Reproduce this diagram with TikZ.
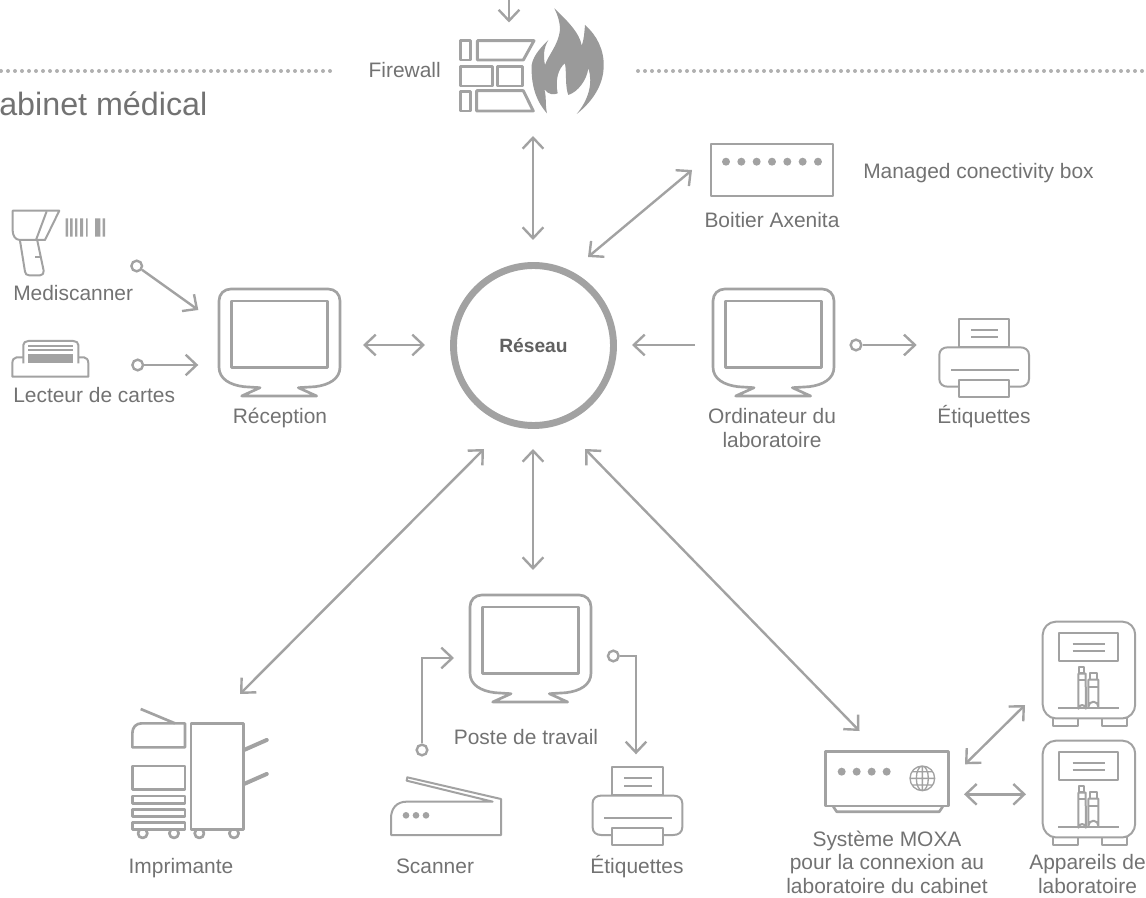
\documentclass[tikz,border=0pt]{standalone}
\usepackage{fontspec}
\setmainfont{Liberation Sans}
\usetikzlibrary{arrows.meta}
\definecolor{ink}{HTML}{A2A2A2}
\definecolor{txt}{HTML}{727272}
\tikzset{
  thin line/.style={draw=ink,line width=1.5pt,line join=round},
  mid line/.style={draw=ink,line width=2pt,line join=round},
  thick line/.style={draw=ink,line width=2.2pt,line join=round},
  conn/.style={draw=ink,line width=1.8pt},
  tip/.tip={Straight Barb[length=8.2pt,width=15.5pt]},
  one/.style={conn,-tip},
  two/.style={conn,tip-tip},
  ring/.style={circle,draw=ink,line width=1.8pt,minimum size=8pt,inner sep=0pt},
  lbl/.style={text=txt,font=\fontsize{15.7}{17.7}\selectfont,inner sep=0pt,anchor=base},
  dots/.style={draw=ink!85,line width=3pt,line cap=round,dash pattern=on 0pt off 5.25pt},
  monitor/.pic={
    \draw[mid line] (0,12) .. controls (0,5) and (5,0) .. (12,0) -- (109,0)
      .. controls (116,0) and (121,5) .. (121,12) -- (121,78)
      .. controls (121,90) and (110,96) .. (96,97.7) -- (79.3,98.7) -- (97.7,107) -- (22.7,107)
      -- (41,98.7) -- (25,97.7) .. controls (11,96) and (0,90) .. (0,78) -- cycle;
    \draw[mid line] (12.7,12) rectangle (108.7,78.3);
  },
  printer/.pic={
    \draw[thin line] (-19.7,36) .. controls (-19.7,31) and (-16,28.3) .. (-11,28.3) -- (61,28.3)
      .. controls (66,28.3) and (70,31) .. (70,36) -- (70,60) .. controls (70,65) and (66,67.7) .. (61,67.7)
      -- (-11,67.7) .. controls (-16,67.7) and (-19.7,65) .. (-19.7,60) -- cycle;
    \draw[thin line,fill=white] (0,0) rectangle (50.3,27.7);
    \draw[thin line] (12,11) -- (39.3,11) (12,18.3) -- (39.3,18.3);
    \draw[thin line] (-8,51) -- (60,51);
    \draw[thin line,fill=white] (0,61) rectangle (50.3,77.7);
  },
  analyzer/.pic={
    \draw[thin line,fill=white] (10.7,96) rectangle (35.7,104);
    \draw[thin line,fill=white] (59,96) rectangle (84,104);
    \draw[thin line,fill=white] (13,0) -- (80,0) .. controls (87,0) and (92.5,6) .. (92.5,13)
      -- (92.5,83) .. controls (92.5,90) and (87,96.7) .. (80,96.7) -- (13,96.7)
      .. controls (6,96.7) and (0,90) .. (0,83) -- (0,13) .. controls (0,6) and (6,0) .. (13,0) -- cycle;
    \draw[thin line] (16.7,11) rectangle (75.7,39);
    \draw[thin line] (30,22) -- (62.3,22) (30,29.3) -- (62.3,29.3);
    \draw[thin line] (15.7,86) -- (76.3,86);
    \draw[thin line,fill=white] (36.7,45) rectangle (41.3,51.7);
    \draw[thin line,fill=white] (35.7,52) -- (35.7,87) arc[start angle=180,end angle=360,radius=3.7] -- (43,52) -- cycle;
    \draw[thin line] (35.7,58.5) -- (43,58.5);
    \draw[thin line,fill=white] (47.3,51) rectangle (54,58);
    \draw[thin line,fill=white] (45.7,58) -- (45.7,85) arc[start angle=180,end angle=360,radius=5] -- (55.7,58) -- cycle;
    \draw[thin line] (45.7,65) -- (55.7,65);
  },
}
\begin{document}
\begin{tikzpicture}[x=0.75pt,y=-0.75pt]
\useasboundingbox (0,0) rectangle (1146,898);

% dotted rules
\coordinate (dl0) at (1,71); \coordinate (dl1) at (335,71);
\coordinate (dr0) at (638,71); \coordinate (dr1) at (1146,71);
\draw[dots] (dl0) -- (dl1);
\draw[dots] (dr0) -- (dr1);
\node[lbl,font=\fontsize{24.2}{26}\selectfont,anchor=base west] (title) at (-1,115.5) {abinet médical};

% firewall
\begin{scope}[thick line]
  \draw (460.7,40.7) rectangle (470.7,60);
  \draw (477.3,40.7) -- (534,40.7) -- (523.3,60) -- (477.3,60) -- cycle;
  \draw (460.7,66.7) rectangle (492.3,86);
  \draw (497.3,66.7) rectangle (522.7,86);
  \draw (460.7,91.7) rectangle (470.7,111);
  \draw (476.7,90.7) -- (523.3,90.7) -- (533.3,111) -- (476.7,111) -- cycle;
\end{scope}
\begin{scope}[shift={(525,0)},x=0.25pt,y=-0.25pt]
  \fill[ink!95!black] (88,25) .. controls (125,60) and (165,100) .. (170,137)
    .. controls (178,115) and (178,95) .. (180,75)
    .. controls (215,105) and (238,150) .. (236,200)
    .. controls (235,265) and (190,315) .. (155,342)
    .. controls (190,300) and (205,250) .. (190,205)
    .. controls (185,240) and (160,275) .. (130,285)
    .. controls (120,260) and (125,220) .. (120,190)
    .. controls (100,205) and (90,240) .. (98,280)
    .. controls (88,285) and (70,285) .. (58,268)
    .. controls (65,290) and (60,315) .. (66,340)
    .. controls (30,300) and (18,250) .. (20,195)
    .. controls (25,165) and (50,140) .. (70,120)
    .. controls (55,145) and (55,170) .. (60,195)
    .. controls (70,165) and (100,135) .. (105,90)
    .. controls (105,65) and (98,45) .. (88,25) -- cycle;
\end{scope}
\node[lbl,anchor=base east] (fw) at (441,78) {Firewall};
\coordinate (in0) at (509,0); \coordinate (in1) at (509,22.5);
\draw[one] (in0) -- (in1);

% network
\node[circle,draw=ink,line width=5.2pt,minimum size=120pt,inner sep=0pt,text=txt!85!black,
      font=\fontsize{14.4}{17}\selectfont\bfseries] (net) at (533.5,345.5) {Réseau};

% axenita
\node[thin line,minimum width=91pt,minimum height=39pt,inner sep=0pt] (axe) at (772,170.3) {};
\foreach \i in {0,...,6} \fill[ink] (726+15.33*\i,161.7) circle[radius=4];
\node[lbl] (axel) at (772,227.5) {Boitier Axenita};
\node[lbl,anchor=base west] (mcb) at (863,178.5) {Managed conectivity box};

% monitors
\pic (rec) at (219,289) {monitor};
\node[lbl] (recl) at (280,424) {Réception};
\pic (ord) at (713,289) {monitor};
\node[lbl,align=center] (ordl) at (772,447.5) {Ordinateur du\\laboratoire};
\pic (pos) at (470,595) {monitor};
\node[lbl] (posl) at (526,744) {Poste de travail};

% printers
\pic (pr1) at (959,319) {printer};
\node[lbl] (pr1l) at (984,424) {Étiquettes};
\pic (pr2) at (612.3,767.3) {printer};
\node[lbl] (pr2l) at (637,873) {Étiquettes};

% mediscanner
\begin{scope}[shift={(0,200)},x=0.25pt,y=-0.25pt]
  \draw[thin line] (38,32) -- (178,32) -- (135,120) -- (60,120) .. controls (45,120) and (38,105) .. (38,92) -- cycle;
  \draw[thin line] (140,34) -- (108,120);
  \draw[thin line] (60,122) -- (75,215) .. controls (76,222) and (80,226) .. (88,226) -- (120,226) .. controls (128,226) and (132,220) .. (131,212) -- (112,122);
  \draw[thin line] (105,170) -- (122,170);
  \fill[ink] (197,55) rectangle (204,110) (210,55) rectangle (218,110) (225,55) rectangle (232,110)
    (240,55) rectangle (249,110) (258,55) rectangle (263,110) (285,55) rectangle (301,110) (308,55) rectangle (315,110);
\end{scope}
\node[lbl,anchor=base west] (medl) at (13,301) {Mediscanner};

% card reader
\begin{scope}[shift={(0,200)},x=0.25pt,y=-0.25pt]
  \draw[thin line] (70,472) -- (50,472) .. controls (42,472) and (37,480) .. (37,490) -- (37,530) -- (265,530) -- (265,490) .. controls (265,480) and (260,472) .. (252,472) -- (235,472);
  \draw[thin line] (70,490) -- (70,435) .. controls (70,428) and (76,423) .. (85,423) -- (220,423) .. controls (229,423) and (235,428) .. (235,435) -- (235,490);
  \draw[thin line] (85,437) -- (220,437) (85,449) -- (220,449);
  \fill[ink] (84,462) rectangle (218,490);
\end{scope}
\node[lbl,anchor=base west] (lecl) at (13,403) {Lecteur de cartes};

% multifunction printer
\begin{scope}[shift={(120,690)},x=0.25pt,y=-0.25pt]
  \foreach \c in {68,162,238,342} \draw[mid line] (\c,430) circle[radius=14];
  \draw[mid line] (62,57) -- (165,100);
  \draw[mid line] (195,172) -- (37,172) -- (37,130) .. controls (37,112) and (48,100) .. (65,100) -- (195,100) -- cycle;
  \draw[mid line] (37,228) rectangle (195,298);
  \draw[mid line] (37,318) rectangle (195,340);
  \draw[mid line] (37,358) rectangle (195,380);
  \draw[mid line,fill=white] (37,397) rectangle (195,418);
  \draw[mid line,fill=white] (213,100) rectangle (370,418);
  \draw[draw=ink,line width=3pt,line cap=round] (372,180) -- (440,150) (372,282) -- (440,252);
\end{scope}
\node[lbl] (impl) at (181,873) {Imprimante};

% scanner
\begin{scope}[shift={(120,690)},x=0.25pt,y=-0.25pt]
  \draw[thin line] (862,262) -- (1143,327) -- (1143,435) -- (813,435) -- (813,385) .. controls (813,355) and (830,335) .. (860,335) -- (1118,335) -- (860,272) -- cycle;
  \foreach \c in {858,888,918} \fill[ink] (\c,376) circle[radius=10];
\end{scope}
\node[lbl] (scal) at (435,873) {Scanner};

% MOXA
\begin{scope}[shift={(800,610)},x=0.25pt,y=-0.25pt]
  \draw[mid line] (100,590) -- (110,605) -- (418,605) -- (428,590);
  \draw[mid line] (77,425) rectangle (445,588);
  \foreach \c in {125,170,215,260} \fill[ink] (\c,485) circle[radius=12];
  \draw[draw=ink,line width=1pt] (367,505) circle[radius=37] (367,505) ellipse[x radius=18,y radius=37]
    (330,505) -- (404,505) (367,468) -- (367,542) (337,485) -- (397,485) (337,525) -- (397,525);
\end{scope}
\node[lbl,align=center] (moxl) at (887,893.5) {Système MOXA\\pour la connexion au\\laboratoire du cabinet};

% analyzers
\pic (an1) at (1042.7,621.7) {analyzer};
\pic (an2) at (1042.7,740.7) {analyzer};
\node[lbl,align=center] (anl) at (1087.5,893.5) {Appareils de\\laboratoire};

% connectors
\coordinate (fwd) at (533,136); \coordinate (fwn) at (533,240);
\draw[two] (fwd) -- (fwn);
\coordinate (axa) at (692,170); \coordinate (axb) at (588,257);
\draw[two] (axa) -- (axb);
\coordinate (rca) at (363,345); \coordinate (rcb) at (425,345);
\draw[two] (rca) -- (rcb);
\coordinate (ora) at (695,345); \coordinate (orb) at (632,345);
\draw[one] (ora) -- (orb);
\node[ring] (r1) at (856,345) {}; \coordinate (t1) at (916.7,345);
\draw[one] (r1) -- (t1);
\node[ring] (r2) at (136.7,266) {}; \coordinate (t2) at (198.3,310);
\draw[one] (r2) -- (t2);
\node[ring] (r3) at (137.7,365) {}; \coordinate (t3) at (198.3,365);
\draw[one] (r3) -- (t3);
\coordinate (ima) at (484,449); \coordinate (imb) at (240,694);
\draw[two] (ima) -- (imb);
\coordinate (poa) at (533,449); \coordinate (pob) at (533,570);
\draw[two] (poa) -- (pob);
\coordinate (moa) at (585,449); \coordinate (mob) at (859.5,731);
\draw[two] (moa) -- (mob);
\node[ring] (r4) at (422,750) {}; \coordinate (t4) at (454,658);
\draw[one] (r4) |- (t4);
\node[ring] (r5) at (613.3,656) {}; \coordinate (t5) at (636,754.3);
\draw[one] (r5) -| (t5);
\coordinate (ana) at (965,764.3); \coordinate (anb) at (1025,705);
\draw[two] (ana) -- (anb);
\coordinate (anc) at (964,794.3); \coordinate (and) at (1026,794.3);
\draw[two] (anc) -- (and);
\end{tikzpicture}
\end{document}
